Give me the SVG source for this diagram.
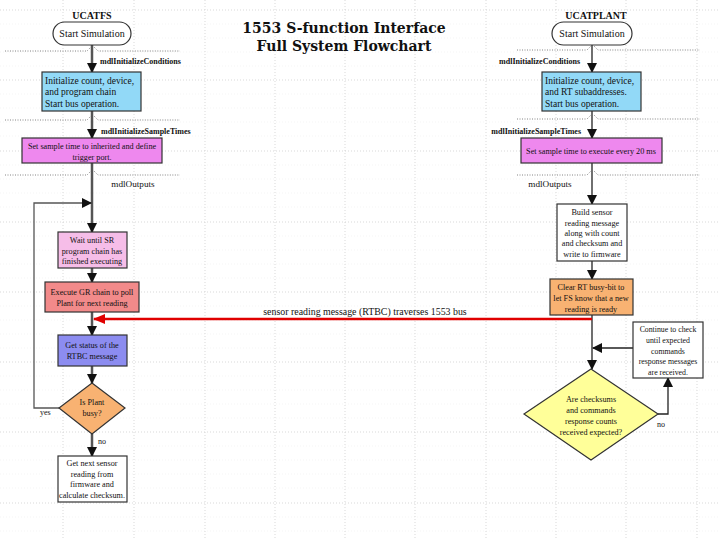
<svg xmlns="http://www.w3.org/2000/svg" width="720" height="540" viewBox="0 0 720 540">
<style>
.grid{stroke:#cfcfcf;stroke-width:0.8;stroke-dasharray:1 2;fill:none}
.mgrid{stroke:#eeeeee;stroke-width:0.6;stroke-dasharray:1 2;fill:none}
.sec{stroke:#666;stroke-width:0.8;stroke-dasharray:1 1.5;fill:none}
.box{stroke:#333;stroke-width:1.2}
.t{font-family:"Liberation Serif","Times New Roman",serif;font-size:8.2px;fill:#111}
.c{text-anchor:middle}
.lbl{font-family:"Liberation Serif","Times New Roman",serif;font-size:8px;font-weight:bold;fill:#111}
.hd{font-family:"Liberation Serif","Times New Roman",serif;font-size:10px;font-weight:bold;fill:#111;text-anchor:middle}
.title{font-family:"DejaVu Serif",Georgia,serif;font-size:14px;font-weight:bold;fill:#111;text-anchor:middle}
.thick{stroke:#555;stroke-width:2.5;fill:none}
.thin{stroke:#222;stroke-width:1.3;fill:none}
</style>
<defs>
<marker id="ah" markerUnits="userSpaceOnUse" markerWidth="10" markerHeight="12" refX="9" refY="5" orient="auto">
<path d="M0,0 L10,5 L0,10 Z" fill="#111"/>
</marker>
<marker id="ahr" markerUnits="userSpaceOnUse" markerWidth="12" markerHeight="12" refX="11" refY="5" orient="auto">
<path d="M0,0 L12,5 L0,10 Z" fill="#e00000"/>
</marker>
</defs>
<rect width="720" height="540" fill="#ffffff"/>
<g id="grid">
<path class="mgrid" d="M0,24H720M0,38H720M0,52H720M0,66H720M0,94H720M0,108H720M0,122H720M0,136H720M0,165H720M0,179H720M0,193H720M0,207H720M0,236H720M0,250H720M0,264H720M0,278H720M0,306H720M0,320H720M0,334H720M0,348H720M0,376H720M0,390H720M0,404H720M0,418H720M0,446H720M0,460H720M0,474H720M0,488H720M0,517H720M0,531H720"/>
<path class="grid" d="M0,10H720M0,80H720M0,151H720M0,222H720M0,292H720M0,362H720M0,432H720M0,503H720"/>
<path class="grid" d="M63,0V540M134,0V540M205,0V540M275,0V540M345,0V540M415,0V540M486,0V540M556,0V540M626,0V540M697,0V540"/>
</g>
<g id="sections">
<path class="sec" d="M5,51H87L91,47M94,47L98,51H180M5,120H87L91,116M94,116L98,120H180M5,175H87L91,171M94,171L98,175H180"/>
<path class="sec" d="M517,50H587L591,46M594,46L598,50H700M517,119H587L591,115M594,115L598,119H700M517,175H587L591,171M594,171L598,175H700"/>
</g>
<g id="title">
<text class="title" x="344" y="33">1553 S-function Interface</text>
<text class="title" x="344" y="51">Full System Flowchart</text>
</g>
<g id="connectors">
<path class="thick" d="M92,45V72" marker-end="url(#ah)"/>
<path class="thick" d="M92,111V138" marker-end="url(#ah)"/>
<path class="thick" d="M92,163V232" marker-end="url(#ah)"/>
<path class="thick" d="M92,268V282" marker-end="url(#ah)"/>
<path class="thick" d="M92,312V335" marker-end="url(#ah)"/>
<path class="thick" d="M92,366V383" marker-end="url(#ah)"/>
<path class="thick" d="M92,434V456" marker-end="url(#ah)"/>
<path stroke="#555" stroke-width="1.3" fill="none" d="M60,408H34V203H91" marker-end="url(#ah)"/>
<path class="thin" d="M592,45V72" marker-end="url(#ah)"/>
<path class="thin" d="M592,111V138" marker-end="url(#ah)"/>
<path class="thin" d="M592,163V204" marker-end="url(#ah)"/>
<path class="thin" d="M592,261V279" marker-end="url(#ah)"/>
<path class="thin" d="M592,315V369" marker-end="url(#ah)"/>
<path class="thin" d="M633,348H593" marker-end="url(#ah)"/>
<path class="thin" d="M658,414H668V378" marker-end="url(#ah)"/>
<path stroke="#e00000" stroke-width="2.5" fill="none" d="M592,319H94" marker-end="url(#ahr)"/>
<text class="t c" x="365" y="315" style="font-size:9.9px">sensor reading message (RTBC) traverses 1553 bus</text>
<text class="lbl" x="100" y="64">mdlInitializeConditions</text>
<text class="lbl" x="101" y="134">mdlInitializeSampleTimes</text>
<text class="t c" x="133" y="187" style="font-size:9.2px">mdlOutputs</text>
<text class="t" x="40" y="415" style="font-size:8px">yes</text>
<text class="t" x="98" y="444" style="font-size:8px">no</text>
<text class="lbl" x="580" y="64" text-anchor="end">mdlInitializeConditions</text>
<text class="lbl" x="581" y="134" text-anchor="end">mdlInitializeSampleTimes</text>
<text class="t c" x="550" y="187" style="font-size:9.2px">mdlOutputs</text>
<text class="t" x="657" y="427" style="font-size:8px">no</text>
</g>
<g id="ucatfs-start">
<text class="hd" x="92" y="19">UCATFS</text>
<rect class="box" x="53" y="22" width="78" height="23" rx="11.5" fill="#fff"/>
<text class="t c" x="92" y="37" style="font-size:10px">Start Simulation</text>
</g>
<g id="fs-init">
<rect class="box" x="42" y="72" width="99" height="39" fill="#92d9f7"/>
<text class="t" x="45" y="84" style="font-size:9.5px">Initialize count, device,</text>
<text class="t" x="45" y="95" style="font-size:9.5px">and program chain</text>
<text class="t" x="45" y="107" style="font-size:9.5px">Start bus operation.</text>
</g>
<g id="fs-sample">
<rect class="box" x="22" y="138" width="140" height="25" fill="#ee88ee"/>
<text class="t c" x="92" y="149">Set sample time to inherited and define</text>
<text class="t c" x="92" y="160">trigger port.</text>
</g>
<g id="fs-wait">
<rect class="box" x="58" y="232" width="69" height="36" fill="#f6bde8"/>
<text class="t c" x="92" y="243">Wait until SR</text>
<text class="t c" x="92" y="254">program chain has</text>
<text class="t c" x="92" y="264">finished executing</text>
</g>
<g id="fs-execute">
<rect class="box" x="45" y="282" width="94" height="30" fill="#f28a8a"/>
<text class="t c" x="92" y="295">Execute GR chain to poll</text>
<text class="t c" x="92" y="306">Plant for next reading</text>
</g>
<g id="fs-status">
<rect class="box" x="58" y="335" width="69" height="31" fill="#8c8cf0"/>
<text class="t c" x="92" y="348">Get status of the</text>
<text class="t c" x="92" y="359">RTBC message</text>
</g>
<g id="fs-busy">
<path class="box" d="M92,383L125,408L92,434L59,408Z" fill="#f8b272"/>
<text class="t c" x="92" y="405">Is Plant</text>
<text class="t c" x="92" y="416">busy?</text>
</g>
<g id="fs-next">
<rect class="box" x="58" y="456" width="69" height="46" fill="#fff"/>
<text class="t c" x="92" y="466">Get next sensor</text>
<text class="t c" x="92" y="477">reading from</text>
<text class="t c" x="92" y="487">firmware and</text>
<text class="t c" x="92" y="498">calculate checksum.</text>
</g>
<g id="ucatplant-start">
<text class="hd" x="596" y="19">UCATPLANT</text>
<rect class="box" x="552" y="22" width="80" height="23" rx="11.5" fill="#fff"/>
<text class="t c" x="592" y="37" style="font-size:10px">Start Simulation</text>
</g>
<g id="plant-init">
<rect class="box" x="542" y="72" width="99" height="39" fill="#92d9f7"/>
<text class="t" x="545" y="84" style="font-size:9.5px">Initialize count, device,</text>
<text class="t" x="545" y="95" style="font-size:9.5px">and RT subaddresses.</text>
<text class="t" x="545" y="107" style="font-size:9.5px">Start bus operation.</text>
</g>
<g id="plant-sample">
<rect class="box" x="521" y="138" width="141" height="25" fill="#ee88ee"/>
<text class="t c" x="591" y="154">Set sample time to execute every 20 ms</text>
</g>
<g id="plant-build">
<rect class="box" x="557" y="204" width="70" height="57" fill="#fff"/>
<text class="t c" x="592" y="215">Build sensor</text>
<text class="t c" x="592" y="226">reading message</text>
<text class="t c" x="592" y="236">along with count</text>
<text class="t c" x="592" y="246">and checksum and</text>
<text class="t c" x="592" y="257">write to firmware</text>
</g>
<g id="plant-clear">
<rect class="box" x="550" y="279" width="83" height="36" fill="#f8b272"/>
<text class="t c" x="591" y="290">Clear RT busy-bit to</text>
<text class="t c" x="591" y="301">let FS know that a new</text>
<text class="t c" x="591" y="312">reading is ready</text>
</g>
<g id="plant-continue">
<rect class="box" x="633" y="322" width="70" height="56" fill="#fff"/>
<text class="t c" x="668" y="332" style="font-size:7.8px">Continue to check</text>
<text class="t c" x="668" y="343" style="font-size:7.8px">until expected</text>
<text class="t c" x="668" y="354" style="font-size:7.8px">commands</text>
<text class="t c" x="668" y="364" style="font-size:7.8px">response messages</text>
<text class="t c" x="668" y="375" style="font-size:7.8px">are received.</text>
</g>
<g id="plant-check">
<path class="box" d="M591,369L658,414L591,460L524,414Z" fill="#ffff99"/>
<text class="t c" x="591" y="402">Are checksums</text>
<text class="t c" x="591" y="413">and commands</text>
<text class="t c" x="591" y="424">response counts</text>
<text class="t c" x="591" y="435">received expected?</text>
</g>
</svg>
